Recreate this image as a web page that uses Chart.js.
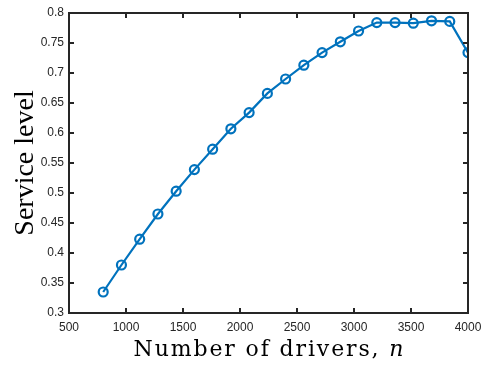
<!DOCTYPE html>
<html>
<head>
<meta charset="utf-8">
<script src="https://cdn.jsdelivr.net/npm/chart.js@4/dist/chart.umd.min.js"></script>
<style>
  html, body { margin: 0; padding: 0; background: #fff; }
  #wrap { width: 482px; height: 367px; }
</style>
</head>
<body>
<div id="wrap"><canvas id="chart"></canvas></div>
<script>
/* datos */
const drivers = [800, 960, 1120, 1280, 1440, 1600, 1760, 1920, 2080, 2240, 2400,
                 2560, 2720, 2880, 3040, 3200, 3360, 3520, 3680, 3840, 4000]
const serviceLevel = [0.335, 0.380, 0.423, 0.465, 0.503, 0.539, 0.573, 0.607, 0.634, 0.666, 0.690,
                      0.713, 0.734, 0.752, 0.770, 0.784, 0.784, 0.783, 0.787, 0.786, 0.734]
const xTitle = 'Number of drivers, '
const xTitleVar = 'n'
const yTitle = 'Service level'

const blue = '#0072BD'
const axisColor = '#262626'

/* marco con ticks hacia adentro, estilo matlab */
const boxPlugin = {
  id: 'box',
  afterDraw(chart) {
    const { ctx, chartArea: a, scales } = chart
    ctx.save()
    ctx.strokeStyle = axisColor
    ctx.lineWidth = 2
    const len = 5
    ctx.beginPath()
    scales.x.ticks.forEach(t => {
      const px = Math.round(scales.x.getPixelForValue(t.value))
      ctx.moveTo(px, a.bottom); ctx.lineTo(px, a.bottom - len)
      ctx.moveTo(px, a.top); ctx.lineTo(px, a.top + len)
    })
    scales.y.ticks.forEach(t => {
      const py = Math.round(scales.y.getPixelForValue(t.value))
      ctx.moveTo(a.left, py); ctx.lineTo(a.left + len, py)
      ctx.moveTo(a.right, py); ctx.lineTo(a.right - len, py)
    })
    ctx.stroke()
    ctx.strokeRect(a.left, a.top, a.right - a.left, a.bottom - a.top)

    // titulo eje x (estilo latex, mas ancho)
    ctx.fillStyle = '#000'
    ctx.textBaseline = 'alphabetic'
    ctx.textAlign = 'left'
    const fNormal = '22px "DejaVu Serif", serif'
    const fItalic = 'italic 22px "DejaVu Serif", serif'
    ctx.font = fNormal
    let w1 = ctx.measureText(xTitle).width
    ctx.font = fItalic
    const w2 = ctx.measureText(xTitleVar).width
    const gap = Math.max(0, (270 - w1 - w2) / xTitle.length)
    ctx.letterSpacing = gap + 'px'
    ctx.font = fNormal
    w1 = ctx.measureText(xTitle).width
    const cx = (a.left + a.right) / 2
    const x0 = cx - (w1 + w2) / 2
    ctx.fillText(xTitle, x0, 356)
    ctx.letterSpacing = '0px'
    ctx.font = fItalic
    ctx.fillText(xTitleVar, x0 + w1, 356)

    // titulo eje y
    ctx.translate(33, (a.top + a.bottom) / 2)
    ctx.rotate(-Math.PI / 2)
    ctx.textAlign = 'center'
    ctx.font = '28px "Liberation Serif", serif'
    ctx.fillText(yTitle, 0, 0)
    ctx.restore()
  }
}

const tickFont = { family: '"Liberation Sans", Arial, sans-serif', size: 12 }

new Chart(document.querySelector('#chart'), {
  type: 'line',
  data: {
    datasets: [{
      data: drivers.map((d, i) => ({ x: d, y: serviceLevel[i] })),
      borderColor: blue,
      borderWidth: 2.2,
      pointRadius: 4.5,
      pointBorderWidth: 2.2,
      pointBorderColor: blue,
      pointBackgroundColor: 'rgba(0,0,0,0)',
      tension: 0
    }]
  },
  options: {
    responsive: true,
    maintainAspectRatio: false,
    animation: false,
    layout: { padding: { top: 13, right: 14, left: 0, bottom: 0 } },
    plugins: { legend: { display: false }, tooltip: { enabled: false } },
    scales: {
      x: {
        type: 'linear',
        min: 500, max: 4000,
        grid: { display: false, drawTicks: false },
        border: { display: false },
        ticks: {
          stepSize: 500, color: axisColor, font: tickFont, padding: 7,
          maxRotation: 0, autoSkip: false,
          callback: v => String(v)
        },
        afterFit: s => { s.height = 54; s.paddingLeft = 0; s.paddingRight = 0 }
      },
      y: {
        min: 0.3, max: 0.8,
        grid: { display: false, drawTicks: false },
        border: { display: false },
        ticks: {
          stepSize: 0.05, color: axisColor, font: tickFont, padding: 5,
          autoSkip: false,
          callback: v => String(+v.toFixed(2))
        },
        afterFit: s => { s.width = 69; s.paddingTop = 0; s.paddingBottom = 0 }
      }
    }
  },
  plugins: [boxPlugin]
})
</script>
</body>
</html>
